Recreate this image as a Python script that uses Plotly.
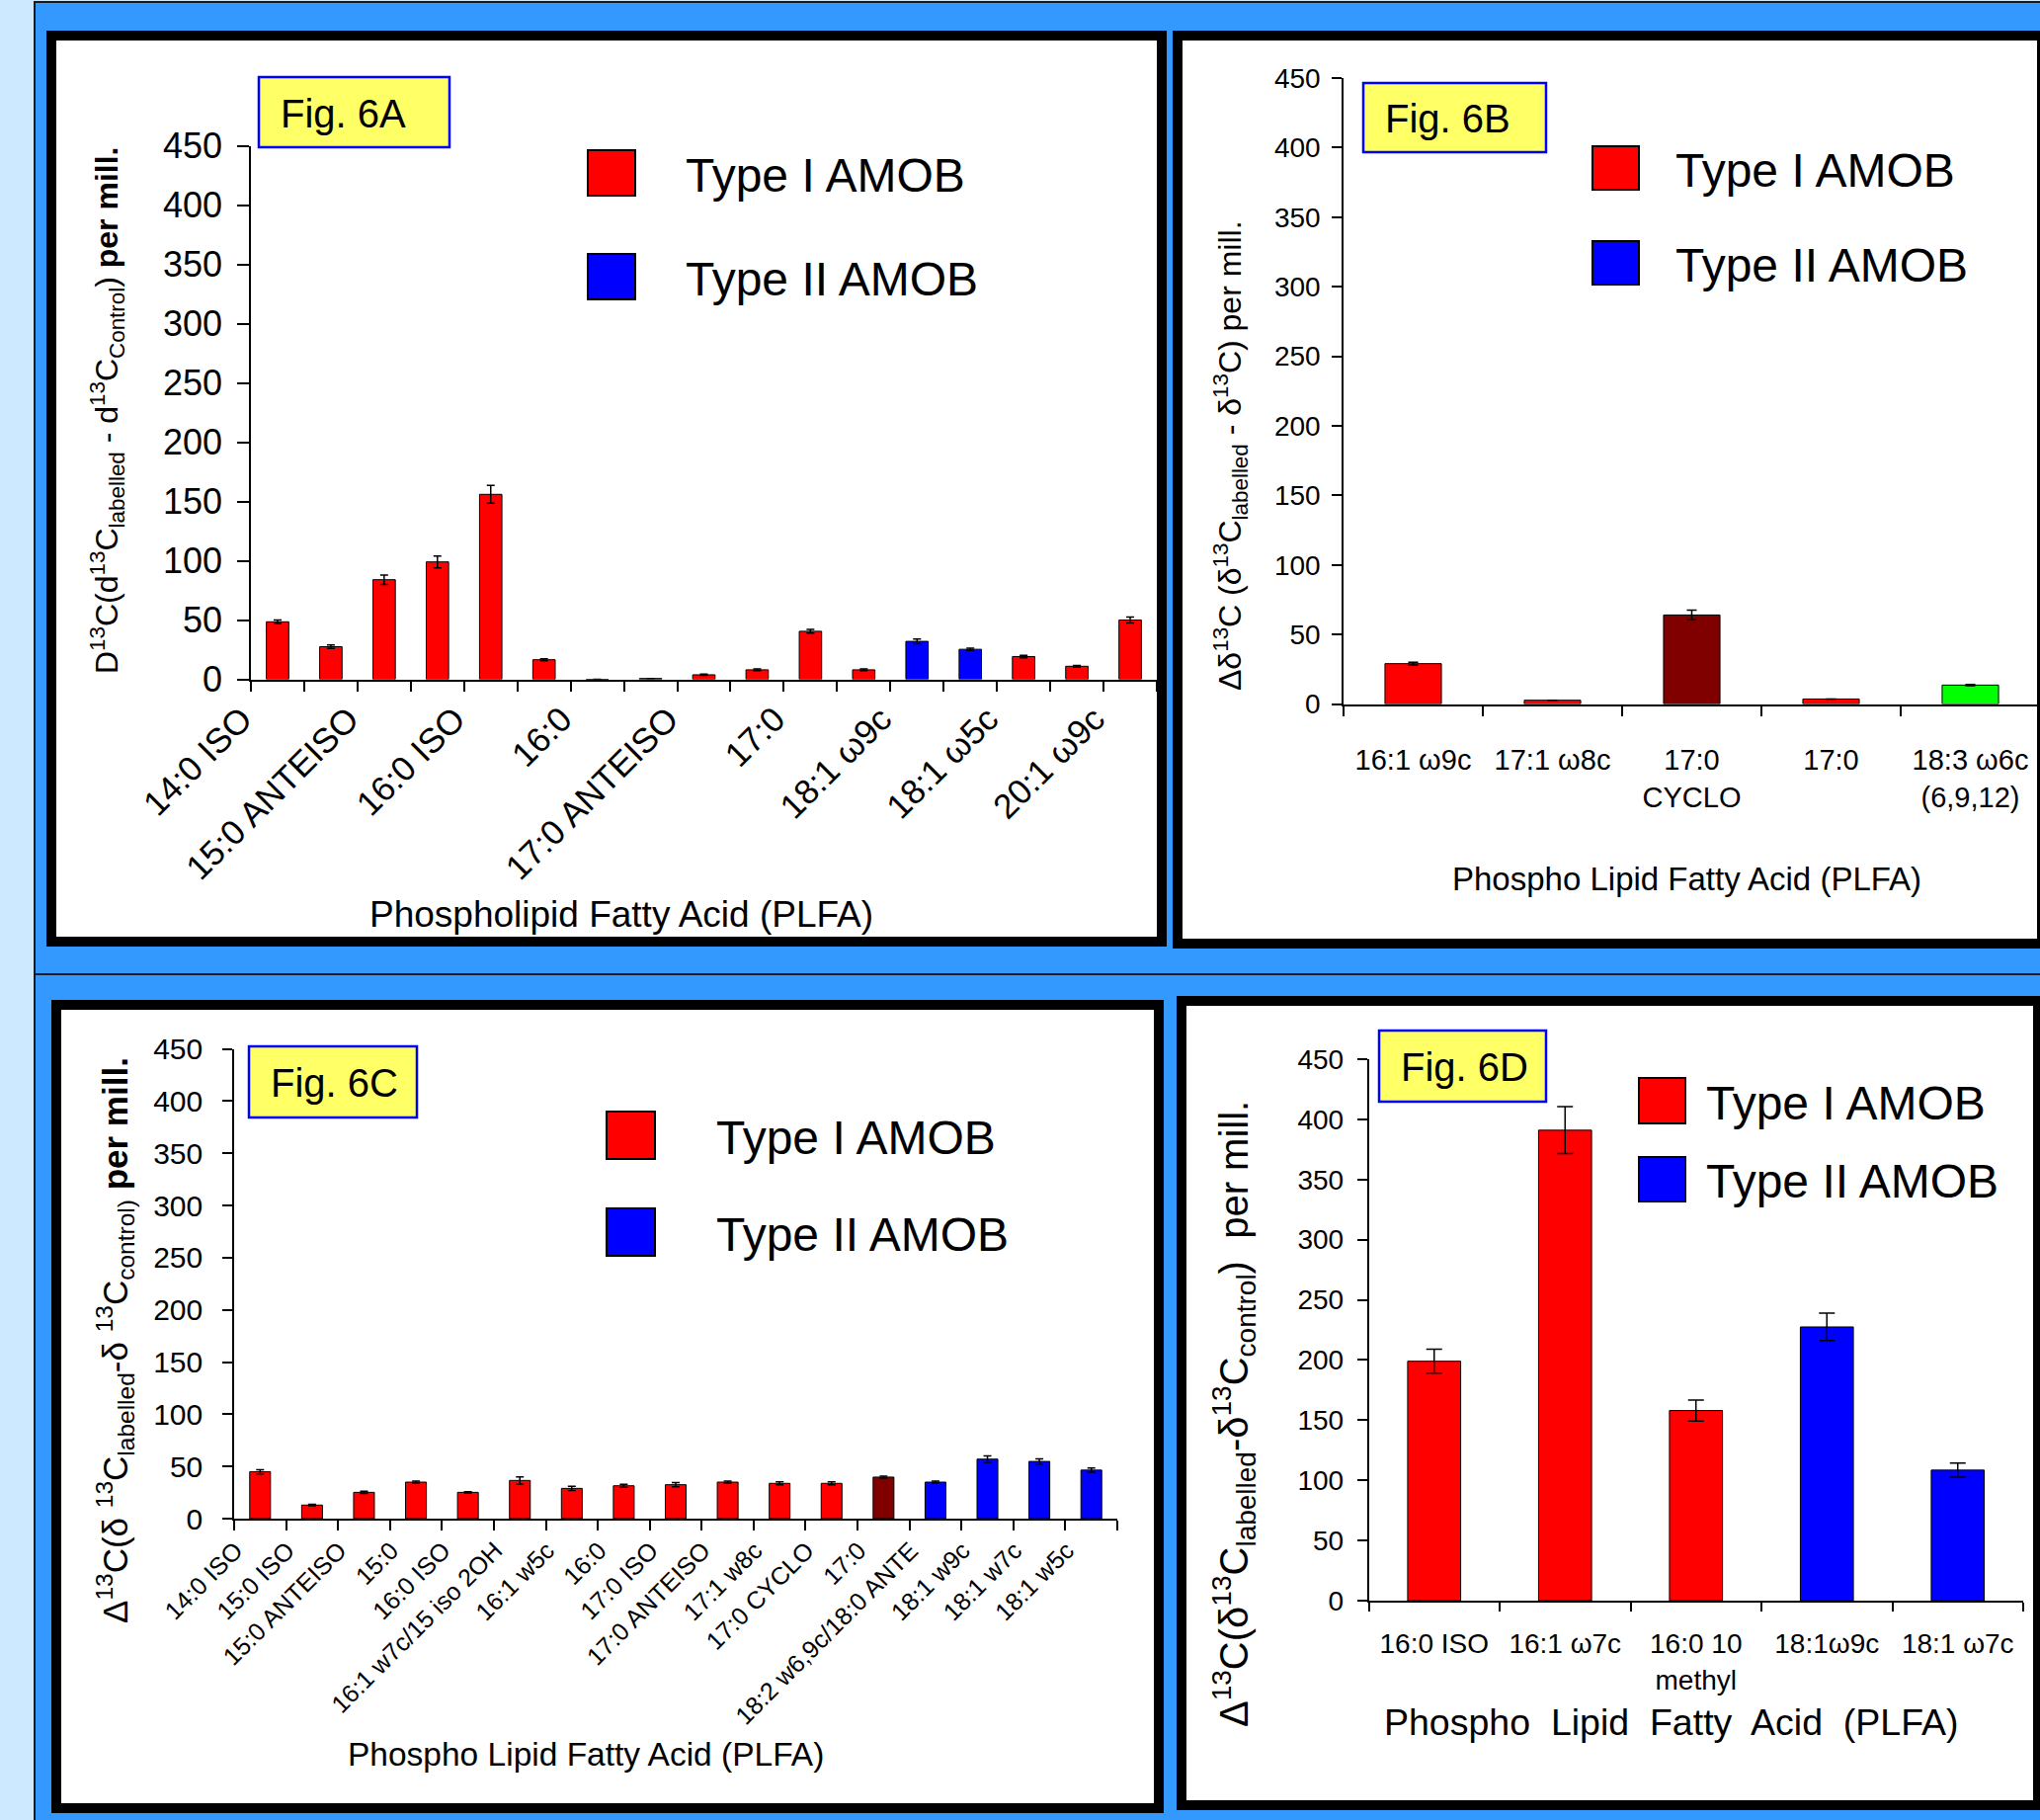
import plotly.graph_objects as go

W, H = 2065, 1842

# ---------------- data ----------------
# Fig. 6A (17 bars, labels shown on every other bar)
a_labels = ["14:0 ISO", "", "15:0 ANTEISO", "", "16:0 ISO", "", "16:0", "",
            "17:0 ANTEISO", "", "17:0", "", "18:1 ω9c", "", "18:1 ω5c", "", "20:1 ω9c"]
a_values = [48.5, 27.5, 84, 99, 156, 16.5, 0, 0.7, 3.8, 8, 40.5, 8, 32, 25.3, 19.2, 11, 50]
a_errors = [1.5, 1.5, 4, 5, 7.5, 0.8, 0, 0, 0.5, 0.8, 1.5, 0.8, 2, 1, 1, 0.7, 2.5]
a_groups = ["I"] * 12 + ["II", "II"] + ["I"] * 3

# Fig. 6B
b_labels = ["16:1 ω9c", "17:1 ω8c", "17:0<br>CYCLO", "17:0", "18:3 ω6c<br>(6,9,12)"]
b_values = [29, 2.7, 64, 3.6, 13.6]
b_errors = [1, 0, 3.5, 0, 0.5]
b_groups = ["I", "I", "dark", "I", "green"]

# Fig. 6C
c_labels = ["14:0 ISO", "15:0 ISO", "15:0 ANTEISO", "15:0", "16:0 ISO",
            "16:1 w7c/15 iso 2OH", "16:1 w5c", "16:0", "17:0 ISO", "17:0 ANTEISO",
            "17:1 w8c", "17:0 CYCLO", "17:0", "18:2 w6,9c/18:0 ANTE",
            "18:1 w9c", "18:1 w7c", "18:1 w5c"]
c_values = [44.9, 13, 25.2, 35, 25.2, 36.6, 29, 31.5, 32.5, 35, 33.8, 33.8, 39.8, 35, 57, 54.8, 46.5]
c_errors = [2, 0.8, 1, 1, 0.7, 3.5, 2, 1.5, 2, 1, 1.5, 1.5, 1, 1, 3, 2.5, 2]
c_groups = ["I"] * 12 + ["dark"] + ["II"] * 4

# Fig. 6D
d_labels = ["16:0 ISO", "16:1 ω7c", "16:0 10<br>methyl", "18:1ω9c", "18:1 ω7c"]
d_values = [199, 391, 158, 227.5, 108.5]
d_errors = [10, 19.5, 8.7, 11.4, 5.9]
d_groups = ["I", "I", "I", "II", "II"]

legend_names = ["Type I AMOB", "Type II AMOB"]
y_ticks = list(range(0, 451, 50))

# ---------------- styles ----------------
palette = {"I": "#ff0000", "II": "#0000ff", "dark": "#800000", "green": "#00ff00"}
SANS = "Liberation Sans, Arial, sans-serif"
LIGHT_BG = "#cce9ff"
FRAME_BLUE = "#3399ff"
YELLOW = "#ffff66"


def px(x):
    return x / W


def py(y):
    return 1 - y / H


fig = go.Figure()

def add_bars(xs, vals, errs, groups, xa, ya, width, capw):
    fig.add_trace(go.Bar(
        x=xs, y=vals, xaxis=xa, yaxis=ya, width=width,
        marker=dict(color=[palette[g] for g in groups], line=dict(color="black", width=1)),
        error_y=dict(type="data", array=errs, color="black", thickness=1.5, width=capw),
        showlegend=False, hoverinfo="x+y",
    ))

add_bars(list(range(len(a_values))), a_values, a_errors, a_groups, "x", "y", 0.42, 4)
add_bars(b_labels, b_values, b_errors, b_groups, "x2", "y2", 0.405, 5)
add_bars(c_labels, c_values, c_errors, c_groups, "x3", "y3", 0.40, 4)
add_bars(d_labels, d_values, d_errors, d_groups, "x4", "y4", 0.405, 8)

axis_common = dict(showline=True, linecolor="black", linewidth=1.5, showgrid=False,
                   zeroline=False, tickcolor="black", tickwidth=1.5, automargin=False)

def yax(y0, y1, x_anchor, size, ticklen, standoff):
    return dict(domain=[py(y1), py(y0)], anchor=x_anchor, range=[0, 450],
                tickmode="array", tickvals=y_ticks, ticks="outside", ticklen=ticklen,
                tickfont=dict(family=SANS, size=size, color="black"),
                ticklabelstandoff=standoff, **axis_common)

a_tickvals = [i for i, l in enumerate(a_labels) if l]
a_ticktext = [l for l in a_labels if l]

fig.update_layout(
    xaxis=dict(domain=[px(254), px(1171)], anchor="y", range=[-0.5, len(a_values) - 0.5],
               tickmode="array", tickvals=a_tickvals, ticktext=a_ticktext, ticks="",
               tickangle=-45, tickfont=dict(family=SANS, size=35, color="black"),
               ticklabelshift=-36, ticklabelstandoff=4,
               minor=dict(tickmode="array", tickvals=[i - 0.5 for i in range(len(a_values) + 1)],
                          ticks="outside", ticklen=11, tickcolor="black", tickwidth=1.5, showgrid=False),
               **axis_common),
    yaxis=yax(147.5, 687.5, "x", 36, 12, 8),
    xaxis2=dict(domain=[px(1360), px(2065)], anchor="y2", type="category",
                tickson="boundaries", ticks="outside", ticklen=11, tickangle=0,
                tickfont=dict(family=SANS, size=29, color="black"),
                ticklabelstandoff=30, **axis_common),
    yaxis2=yax(79, 712.5, "x2", 28, 10, 6),
    xaxis3=dict(domain=[px(237), px(1131)], anchor="y3", type="category",
                tickson="boundaries", ticks="outside", ticklen=10,
                tickangle=-45, tickfont=dict(family=SANS, size=25, color="black"),
                ticklabelshift=-25, ticklabelstandoff=6, **axis_common),
    yaxis3=yax(1061.5, 1537, "x3", 30, 10, 14),
    xaxis4=dict(domain=[px(1385.5), px(2048)], anchor="y4", type="category",
                tickson="boundaries", ticks="outside", ticklen=9, tickangle=0,
                tickfont=dict(family=SANS, size=28, color="black"),
                ticklabelstandoff=18, **axis_common),
    yaxis4=yax(1072, 1620, "x4", 28, 10, 8),
)

# ---------------- frame shapes ----------------
shapes = []

def rect(x0, y0, x1, y1, fill, line_color=None, lw=0):
    return dict(type="rect", xref="paper", yref="paper", layer="below",
                x0=px(x0), x1=px(x1), y0=py(y1), y1=py(y0), fillcolor=fill,
                line=dict(color=line_color or fill, width=lw))

shapes.append(rect(35, 2, 2075, 986, FRAME_BLUE, "#1a1a1a", 2))
shapes.append(rect(35, 986, 2075, 1850, FRAME_BLUE, "#1a1a1a", 2))
# panel boxes (white with thick black border)
shapes.append(rect(52, 36, 1176, 953, "white", "black", 10))
shapes.append(rect(1192, 36, 2067, 955, "white", "black", 10))
shapes.append(rect(57, 1017, 1173, 1830, "white", "black", 10))
shapes.append(rect(1196, 1013, 2063, 1827, "white", "black", 10))

annotations = []

def text(x, y, s, size, xanchor="left", yanchor="middle", angle=0):
    annotations.append(dict(xref="paper", yref="paper", x=px(x), y=py(y), text=s,
                            showarrow=False, xanchor=xanchor, yanchor=yanchor,
                            textangle=angle, font=dict(family=SANS, size=size, color="black")))

# Fig. labels
for (x0, y0, x1, y1, tx, label) in [
        (262, 78, 455, 149, 282, "Fig. 6A"),
        (1380, 84, 1565, 154, 1400, "Fig. 6B"),
        (252, 1059, 422, 1131, 272, "Fig. 6C"),
        (1396, 1043, 1565, 1115, 1416, "Fig. 6D")]:
    shapes.append(rect(x0, y0, x1, y1, YELLOW, "#0000ff", 2.5))
    text(tx, (y0 + y1) / 2 + 1, label, 40)

# legends
for (sx0, sx1, r_y0, r_y1, b_y0, b_y1, tx, size) in [
        (595, 643, 152, 198, 257, 303, 692, 48),
        (1612, 1659, 148, 192, 244, 288, 1694, 48),
        (614, 663, 1125, 1173, 1223, 1271, 723, 48),
        (1659, 1706, 1091, 1137, 1171, 1216, 1725, 48)]:
    shapes.append(rect(sx0, r_y0, sx1, r_y1, palette["I"], "black", 2))
    shapes.append(rect(sx0, b_y0, sx1, b_y1, palette["II"], "black", 2))
    text(tx, (r_y0 + r_y1) / 2 + 2, legend_names[0], size)
    text(tx, (b_y0 + b_y1) / 2 + 2, legend_names[1], size)

# axis titles
text(629, 925, "Phospholipid Fatty Acid (PLFA)", 37, xanchor="center")
text(1707, 889, "Phospho Lipid Fatty Acid (PLFA)", 33, xanchor="center")
text(593, 1775, "Phospho Lipid Fatty Acid (PLFA)", 33.5, xanchor="center")
text(1692, 1743, "Phospho  Lipid  Fatty  Acid  (PLFA)", 37.5, xanchor="center")

text(108, 416, "D<sup>13</sup>C(d<sup>13</sup>C<sub>labelled</sub> - d<sup>13</sup>C<sub>Control</sub>) <b>per mill.</b>",
     32, xanchor="center", angle=-90)
text(1245, 461, "Δδ<sup>13</sup>C (δ<sup>13</sup>C<sub>labelled</sub> - δ<sup>13</sup>C) per mill.",
     32, xanchor="center", angle=-90)
text(116, 1357, "Δ<sup>13</sup>C(δ <sup>13</sup>C<sub>labelled</sub>-δ <sup>13</sup>C<sub>control)</sub> <b>per mill.</b>",
     35, xanchor="center", angle=-90)
text(1249, 1431, "Δ<sup>13</sup>C(δ<sup>13</sup>C<sub>labelled</sub>-δ<sup>13</sup>C<sub>control</sub>)  per mill.",
     40, xanchor="center", angle=-90)

fig.update_layout(
    width=W, height=H, autosize=False,
    margin=dict(l=0, r=0, t=0, b=0, pad=0, autoexpand=False),
    paper_bgcolor=LIGHT_BG, plot_bgcolor="rgba(0,0,0,0)",
    shapes=shapes, annotations=annotations, showlegend=False,
    font=dict(family=SANS, color="black"),
)

fig.write_html("out.html", config={"displayModeBar": False},
               post_script="document.body.style.margin='0';document.body.style.overflow='hidden';")
